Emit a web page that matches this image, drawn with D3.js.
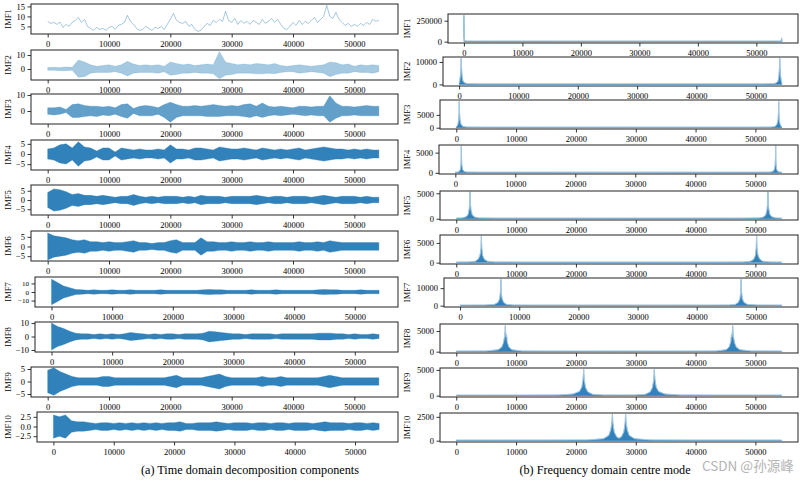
<!DOCTYPE html>
<html><head><meta charset="utf-8">
<script src="https://cdn.jsdelivr.net/npm/d3@7"></script>
<style>
body{margin:0;background:#fff}
svg{display:block}
text{font-family:"Liberation Serif","Times New Roman",serif;fill:#000}
</style>
</head><body>
<svg id="c" width="802" height="482"></svg>
<script>
// ---------------- DATA ----------------
const imfNames = ["IMF1","IMF2","IMF3","IMF4","IMF5","IMF6","IMF7","IMF8","IMF9","IMF10"];
const sampleCount = 54400;
const xTickValues = [0,10000,20000,30000,40000,50000];

// IMF1 time-domain values, one every 500 samples
const imf1Step = 500;
const imf1Values = [7.5,6.5,7,6,7.2,4.5,6,5,7,8,9.5,7,8.5,5,4,3,4.5,3.5,4,3,4.5,5,3.5,5.5,6,7,10.5,7.5,6,4,3,3.5,5,4,3,4.5,4,5,3.5,6,8.5,11.5,8,7,6.5,7.5,5,6,3.5,2.5,3,5,6.5,5.5,8,7,8.5,7.5,12.5,8,7,9,6,8,6.5,7.5,6,8,7,6,8.5,6.5,7.5,9,7,8.5,6,4,3.5,5,7,5.5,8,6,7.5,6.5,8,9.5,7,8.5,10,15.5,10,9,12,8.5,7,5.5,6.5,5,6,5,6.5,5.5,7,6,8.5,7.5,8];

// IMF2..IMF10 oscillation envelopes, one value every 1000 samples
const envStep = 1000;
const imf2Upper = [1,1.2,1,1.5,1.2,6.5,5,3,2,2.5,3,2,3,5.5,3.5,2.5,3,2.5,3,2,5,4,3,3.5,2.5,3,3.5,3,12.5,5,4,3,3.5,3,4,3.5,3,4,2.5,2,2.5,3,2.5,2,2.5,3,5,4.5,3,3.5,2,3,2.5,3,2.5];
const imf2Lower = [-1,-1,-1.2,-1.3,-1,-6,-5.5,-3,-2.5,-2.5,-2.5,-2,-3,-5,-3,-2.5,-2.5,-2.5,-3,-2,-4.5,-4,-3,-3,-2.5,-3,-3,-3.5,-7,-4.5,-4,-3,-3,-3,-3.5,-3.5,-3,-3.5,-2.5,-2,-2,-3,-2.5,-2,-2.5,-3,-5.5,-4,-3,-3,-2,-2.5,-2.5,-3,-2];
const imf3Upper = [2,2,2.5,1,4,4.5,3.5,3,3,2.5,3,2,4,4.5,1.5,3,3.5,3,2,4,5.5,4,3,3,3.5,3,3.5,4,3.5,3,3.5,3,4,4.5,3,5,3,2.5,3,2.5,2,3,3,2.5,3,3,9.5,5,3,3,2.5,3,3.5,3,3];
const imf3Lower = [-2,-2.5,-2,-1,-4,-4,-3.5,-3,-3.5,-2.5,-3,-2,-3.5,-4.5,-1.5,-3,-3,-3,-2,-4,-7,-4,-3,-3,-3,-3,-3.5,-3.5,-3.5,-3,-3,-3,-3.5,-4,-3,-4,-3,-2.5,-3,-2.5,-2,-2.5,-3,-2.5,-3,-3,-7,-4.5,-3,-3,-2.5,-3,-3,-3,-3];
const imf4Amp = [2.5,3,4.5,5,3,6,3.5,3,1.5,3,3,1,3,2.5,2,2.5,2,2,2.5,2,4.5,2.5,2.5,2,3,3,2.5,2,3.5,3,2.5,2.5,3,2.5,2,3,2.5,2,2.5,2,2.5,3,2,2.5,3,3.5,3,2.5,2.5,2,2.5,2,2.5,2,2];
const imf5Amp = [4,6,5.5,4.5,3,3.5,2.5,2.5,2,2.5,2,1.5,2,2,3,2,1.5,2,1.5,2,2,2,1.5,2,1.5,2.5,2,2,2,1.5,2,2,2,2,2.5,2,1.5,2,2,1.5,2,2,2,1.5,2,2.5,2,1.5,2,2,2,1.5,2,1.5,1.5];
const imf6Amp = [7,5.5,5,4.5,3.5,3,3.5,2.5,2.5,2,2.5,2,2,2.5,3,2,2,1.5,2,2,3,3.5,2,2,2,4.5,2.5,2.5,2,2,2.5,2,2,2.5,2,2,2.5,2,2,2,2,2.5,2,2,2.5,2,3,2.5,2,2,2,2,2,2,2];
const imf7Amp = [15,11,7,5,3,2.5,2,2.5,2,2,2.5,2,2,2.5,2,2,2,2,2.5,2,2,2,2,2,2,2.5,3,2.5,2.5,2,2,2,2,2.5,2,2,2,2.5,2,2,2,2,2,2,2.5,3,2.5,2.5,2,2,2,2.5,2,2,2];
const imf8Amp = [10,7.5,6,4,2.5,2,2,1.5,2,1.5,2,1.5,2,3,2.5,2,1.5,2,1.5,2,2,1.5,2,2,2,2.5,4,3.5,3,2.5,2,2,1.5,2,2,2,2,1.5,2,2,2,2,2,2,2.5,2.5,2.5,2,2,1.5,2,1.5,1.5,2,1.5];
const imf9Amp = [4.5,5.5,4,3,2,1.5,1.5,1.5,1.5,2,2,1.5,1.5,1.5,1.5,1.5,1.5,1.5,1.5,1.5,2,2.5,1.5,1.5,1.5,1.5,2,2.5,3,2,1.5,1.5,1.5,1.5,1.5,2,1.5,1.5,2,1.5,1.5,1.5,1.5,1.5,1.5,2,2.5,2,1.5,1.5,1.5,1.5,1.5,1.5,1.5];
const imf10Amp = [3,2.5,3,1.5,1.2,1.2,1,0.8,1,1,0.8,1,0.8,1,0.8,1,0.8,1,0.8,1,1,1.2,0.8,0.8,1,1,1,1.2,1,0.8,1,1,1,0.8,1,1,0.8,1,1,0.8,1,1,1,0.8,1,1.2,1,1,1,0.8,1,1,0.8,1,0.8];

// spectra: [frequency index, magnitude]
const spec1 = [[0,315000],[40,60000],[150,8000],[600,2500],[1500,1200],[5000,600],[27200,400],[50000,600],[53800,1500],[54250,6000],[54320,45000],[54400,2000]];
const spec2 = [[0,400],[100,1500],[200,3500],[290,7000],[350,11600],[410,7000],[500,3500],[650,1400],[950,600],[1550,250],[3000,100],[10000,50],[27200,40],[44400,50],[51400,100],[52850,250],[53450,600],[53750,1400],[53900,3500],[53990,7000],[54050,11600],[54110,7000],[54200,3500],[54300,1500],[54400,400]];
const spec3 = [[0,150],[150,700],[300,1500],[420,3500],[470,6500],[500,10200],[540,6000],[620,3000],[800,1300],[1100,500],[1700,200],[4000,80],[27200,40],[50400,80],[52700,200],[53300,500],[53600,1300],[53780,3000],[53860,6000],[53900,10200],[53930,6500],[53980,3500],[54100,1500],[54250,700],[54400,150]];
const spec4 = [[0,50],[400,150],[700,400],[850,900],[940,2200],[975,4000],[1000,6700],[1030,4000],[1080,2000],[1200,900],[1400,400],[1900,150],[4000,60],[27200,30],[50400,60],[52500,150],[53000,400],[53200,900],[53320,2000],[53370,4000],[53400,6700],[53425,4000],[53460,2200],[53550,900],[53700,400],[54000,150],[54400,50]];
const spec5 = [[0,40],[1000,120],[1700,400],[2000,900],[2180,2000],[2260,3500],[2300,5300],[2340,3300],[2450,1800],[2650,800],[3000,350],[3800,120],[7000,50],[27200,30],[47400,50],[50600,120],[51400,350],[51750,800],[51950,1800],[52060,3300],[52100,5300],[52140,3500],[52220,2000],[52400,900],[52700,400],[53400,120],[54400,40]];
const spec6 = [[0,40],[2000,100],[3200,350],[3700,900],[4000,2000],[4130,3800],[4200,6800],[4260,3800],[4400,1800],[4700,800],[5200,350],[6500,120],[10000,50],[27200,30],[44400,50],[47900,120],[49200,350],[49700,800],[50000,1800],[50140,3800],[50200,6800],[50270,3800],[50400,2000],[50700,900],[51200,350],[52400,100],[54400,40]];
const spec7 = [[0,60],[4000,200],[5800,700],[6400,1800],[6700,4000],[6830,8000],[6900,15000],[6960,7500],[7100,3800],[7400,1700],[7900,700],[9000,250],[13000,80],[27200,50],[41400,80],[45400,250],[46500,700],[47000,1700],[47300,3800],[47440,7500],[47500,15000],[47570,8000],[47700,4000],[48000,1800],[48600,700],[50400,200],[54400,60]];
const spec8 = [[0,40],[5000,120],[7000,450],[7600,1100],[7900,2200],[8100,3800],[8200,6300],[8280,3600],[8400,4200],[8500,2400],[8800,1100],[9300,450],[11000,130],[15000,50],[27200,30],[39400,50],[43400,130],[45100,450],[45600,1100],[45900,2400],[46000,4200],[46120,3600],[46200,6300],[46300,3800],[46500,2200],[46800,1100],[47400,450],[49400,120],[54400,40]];
const spec9 = [[0,30],[10000,40],[17000,100],[19500,300],[20600,800],[21000,1700],[21200,3200],[21300,5100],[21400,3000],[21600,1600],[22000,700],[22800,250],[24600,90],[27200,60],[29800,90],[31600,250],[32400,700],[32800,1600],[33000,3000],[33100,5100],[33200,3200],[33400,1700],[33800,800],[34900,300],[37400,100],[44400,40],[54400,30]];
const spec10 = [[0,20],[15000,25],[22000,60],[24600,200],[25500,550],[25850,1200],[26020,2000],[26100,2800],[26180,1800],[26400,900],[26800,400],[27200,250],[27600,400],[28000,900],[28220,1800],[28300,2800],[28380,2000],[28550,1200],[28900,550],[29800,200],[32400,60],[39400,25],[54400,20]];

// axis limits and tick values
const timeYDomains = [[1.2,16.2],[-7.9,13.6],[-8.1,10.6],[-7.9,6.9],[-8.1,8.1],[-7.5,8],[-17.5,17.5],[-11.5,10.8],[-6.2,5.8],[-4,3.75]];
const timeYTicks = [[5,10,15],[0,10],[0,10],[-5,0,5],[-5,0,5],[-5,0,5],[-10,0,10],[-10,0,10],[-5,0,5],[-2.5,0,2.5]];
const freqYDomains = [[-16000,330000],[-700,12200],[-500,10800],[-300,6900],[-250,5450],[-350,7000],[-750,15800],[-320,6700],[-260,5370],[-140,2900]];
const freqYTicks = [[0,250000],[0,10000],[0,5000],[0,5000],[0,5000],[0,5000],[0,10000],[0,5000],[0,5000],[0,2500]];

const captionA = "(a) Time domain decomposition components";
const captionB = "(b) Frequency domain centre mode";
const watermark = "CSDN @孙源峰";

// ---------------- LAYOUT ----------------
const leftTops = [4,50,94,140,185,231,277,322,367,412];
const leftLefts = [31,31,31,31,31,31,35,35,31,37];
const leftRight = 398, leftH = 30;
const rightTops = [14,57,100,145,191,235,278,324,368,413];
const rightLefts = [448,443,440,439,440,440,444,440,440,440];
const rightRight = 798, rightH = 29;
const blue = "#1f77b4";
const fs = 8.5;

const svg = d3.select("#c");
const xDomain = [-sampleCount*0.05, sampleCount*1.05];

const envs = [null,
  {up: imf2Upper, lo: imf2Lower, op: 0.4},
  {up: imf3Upper, lo: imf3Lower, op: 0.7},
  {amp: imf4Amp, op: 0.92},
  {amp: imf5Amp, op: 0.92},
  {amp: imf6Amp, op: 0.92},
  {amp: imf7Amp, op: 0.92},
  {amp: imf8Amp, op: 0.92},
  {amp: imf9Amp, op: 0.92},
  {amp: imf10Amp, op: 0.92}];
const specs = [spec1,spec2,spec3,spec4,spec5,spec6,spec7,spec8,spec9,spec10];

function panel(id, x0, x1, top, h, yDom, yTicks, fmt, labelX, name, yfs) {
  const g = svg.append("g").attr("transform", `translate(${x0},${top})`);
  const w = x1 - x0;
  const x = d3.scaleLinear().domain(xDomain).range([0, w]);
  const y = d3.scaleLinear().domain(yDom).range([h, 0]);
  svg.append("clipPath").attr("id", id).append("rect").attr("x", x0).attr("y", top).attr("width", w).attr("height", h);
  const plot = svg.append("g").attr("clip-path", `url(#${id})`).append("g").attr("transform", `translate(${x0},${top})`);
  const xa = g.append("g").attr("transform", `translate(0,${h})`)
    .call(d3.axisBottom(x).tickValues(xTickValues).tickFormat(d3.format("d")).tickSize(3.5).tickSizeOuter(0).tickPadding(3));
  const ya = g.append("g")
    .call(d3.axisLeft(y).tickValues(yTicks).tickFormat(fmt).tickSize(3.5).tickSizeOuter(0).tickPadding(2.5));
  [xa, ya].forEach(a => {
    a.select(".domain").remove();
    a.selectAll("line").attr("stroke", "#000").attr("stroke-width", 0.8);
    a.selectAll("text").attr("font-size", fs).attr("font-family", "Liberation Serif, Times New Roman, serif").attr("fill", "#000");
  });
  if (yfs) ya.selectAll("text").attr("font-size", yfs);
  g.append("rect").attr("width", w).attr("height", h).attr("fill", "none").attr("stroke", "#222").attr("stroke-width", 1);
  svg.append("text").attr("transform", `translate(${labelX},${top + h/2}) rotate(-90)`)
    .attr("text-anchor", "middle").attr("font-size", fs).text(name);
  return {plot, x, y, g};
}

for (let k = 0; k < 10; k++) {
  // ---------- time domain ----------
  const fmt = k === 9 ? d3.format(".1f") : d3.format("d");
  const L = panel("cl" + k, leftLefts[k], leftRight, leftTops[k], leftH, timeYDomains[k], timeYTicks[k], fmt, 11, imfNames[k], k === 6 ? 7 : null);
  if (k === 0) {
    L.plot.append("path").datum(imf1Values)
      .attr("fill", "none").attr("stroke", blue).attr("stroke-opacity", 0.45).attr("stroke-width", 0.9)
      .attr("d", d3.line().x((d, i) => L.x(i * imf1Step)).y(d => L.y(d)));
  } else {
    const e = envs[k];
    const up = e.up || e.amp;
    const lo = e.lo || e.amp.map(v => -v);
    const area = d3.area().x((d, i) => L.x(i * envStep)).y0((d, i) => L.y(lo[i])).y1((d, i) => L.y(up[i]));
    L.plot.append("path").datum(up).attr("fill", blue).attr("fill-opacity", e.op)
      .attr("stroke", blue).attr("stroke-opacity", e.op * 0.6).attr("stroke-width", 0.6).attr("d", area);
  }
  L.g.raise();

  // ---------- frequency domain ----------
  const R = panel("cr" + k, rightLefts[k], rightRight, rightTops[k], rightH, freqYDomains[k], freqYTicks[k], d3.format("d"), 410, imfNames[k]);
  const sp = specs[k];
  const fillOp = k === 0 ? 0.35 : 0.92;
  R.plot.append("path").datum(sp)
    .attr("fill", blue).attr("fill-opacity", fillOp)
    .attr("stroke", blue).attr("stroke-opacity", k === 0 ? 0.5 : 0.7).attr("stroke-width", k === 0 ? 1 : 0.6)
    .attr("d", d3.area().x(d => R.x(d[0])).y0(R.y(0)).y1(d => R.y(d[1])));
  // light baseline
  R.plot.append("path").datum(sp)
    .attr("fill", "none").attr("stroke", "#a9cbe3").attr("stroke-width", 0.9)
    .attr("d", d3.line().x(d => R.x(d[0])).y(d => Math.min(R.y(0) - 0.8, R.y(d[1]))));
  R.g.raise();
}

svg.append("text").attr("x", 250).attr("y", 474).attr("text-anchor", "middle").attr("font-size", 12.2).text(captionA);
svg.append("text").attr("x", 605).attr("y", 474).attr("text-anchor", "middle").attr("font-size", 12.2).text(captionB);
svg.append("text").attr("x", 702).attr("y", 471).attr("font-size", 13.5)
  .style("font-family", "'Noto Sans CJK SC','Noto Sans',sans-serif")
  .style("fill", "#b4b4b4").text(watermark);
</script>
</body></html>
